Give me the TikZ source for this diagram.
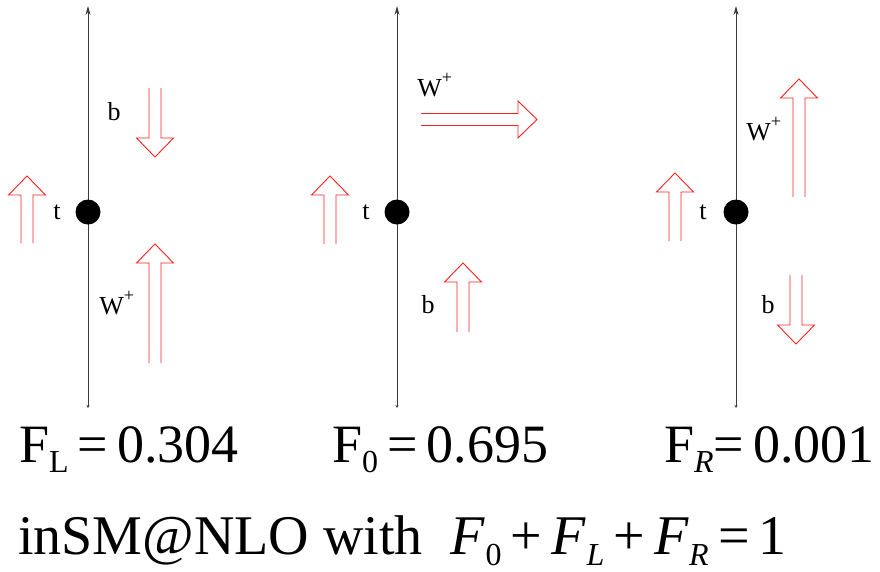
\documentclass[tikz,border=0pt]{standalone}
\usepackage{fontspec}
\setmainfont{Liberation Serif}
\usetikzlibrary{arrows.meta}
\definecolor{ink}{HTML}{1B1919}
\definecolor{spinred}{HTML}{FF2020}
\newcommand\lowsub[1]{\raisebox{-0.2em}{\fontsize{32}{32}\selectfont #1}}
\tikzset{
  spinline/.style={draw=spinred, line width=0.9pt, line join=miter},
  pics/spin/.style={code={
    \draw[spinline] (0,-6) -- ({#1-19},-6) -- ({#1-19},-18.5) -- (#1,0)
      -- ({#1-19},18.5) -- ({#1-19},6) -- (0,6);}},
  lbl/.style={font=\fontsize{26}{28}\selectfont, inner sep=0pt, text=black},
  big/.style={font=\fontsize{54}{58}\selectfont, inner sep=0pt, anchor=base west},
}

\begin{document}
\begin{tikzpicture}[x=1pt, y=-1pt,
  axis/.style={line width=0.8pt, ink!85, {Stealth[length=3pt,width=3pt]}-{Stealth[length=9pt,width=5pt]}},
  quark/.style={circle, fill=black, minimum size=25pt, inner sep=0pt}]
\useasboundingbox (0,0) rectangle (880,571);
% F_L
\coordinate (bot1) at (88,408); \coordinate (top1) at (88,6);
\draw[axis] (bot1) -- (top1);
\node[quark] (top-1) at (88,212) {};
\node[lbl] (t1) at (57,212) {t};
\node[lbl] (b1) at (114,112) {b};
\node[lbl] (w1) at (117,303) {W\raisebox{0.15em}{\textsuperscript{+}}};
\pic[rotate=90] at (27,243) {spin=67};
\pic[rotate=-90] at (155,88) {spin=69};
\pic[rotate=90] at (155,363) {spin=119};
% F_0
\coordinate (bot2) at (397,408); \coordinate (top2) at (397,6);
\draw[axis] (bot2) -- (top2);
\node[quark] (top-2) at (397,212) {};
\node[lbl] (t2) at (366,212) {t};
\node[lbl] (w2) at (435,85) {W\raisebox{0.15em}{\textsuperscript{+}}};
\node[lbl] (b2) at (428,305) {b};
\pic[rotate=90] at (330,244) {spin=68};
\pic at (421,119.5) {spin=116};
\pic[rotate=90] at (463,332) {spin=69};
% F_R
\coordinate (bot3) at (736,408); \coordinate (top3) at (736,6);
\draw[axis] (bot3) -- (top3);
\node[quark] (top-3) at (736,212) {};
\node[lbl] (t3) at (703,212) {t};
\node[lbl] (w3) at (764,129) {W\raisebox{0.15em}{\textsuperscript{+}}};
\node[lbl] (b3) at (768,305) {b};
\pic[rotate=90] at (675,241) {spin=68};
\pic[rotate=90] at (799,197) {spin=118};
\pic[rotate=-90] at (796,275) {spin=69};
% fractions
\node[big] (fl) at (19,462) {F\lowsub{L}\,=\,0.304};
\node[big] (f0) at (332,462) {F\lowsub{0}\,=\,0.695};
\node[big] (fr) at (664,462) {F\lowsub{\textit{R}}=\,0.001};
\node[big, font=\fontsize{56}{60}\selectfont] (sum) at (18,554) {inSM@NLO with \ \textit{F}\lowsub{0}\,+\,\textit{F}\lowsub{\textit{L}}\,+\,\textit{F}\lowsub{\textit{R}}\,=\,1};
\end{tikzpicture}
\end{document}
